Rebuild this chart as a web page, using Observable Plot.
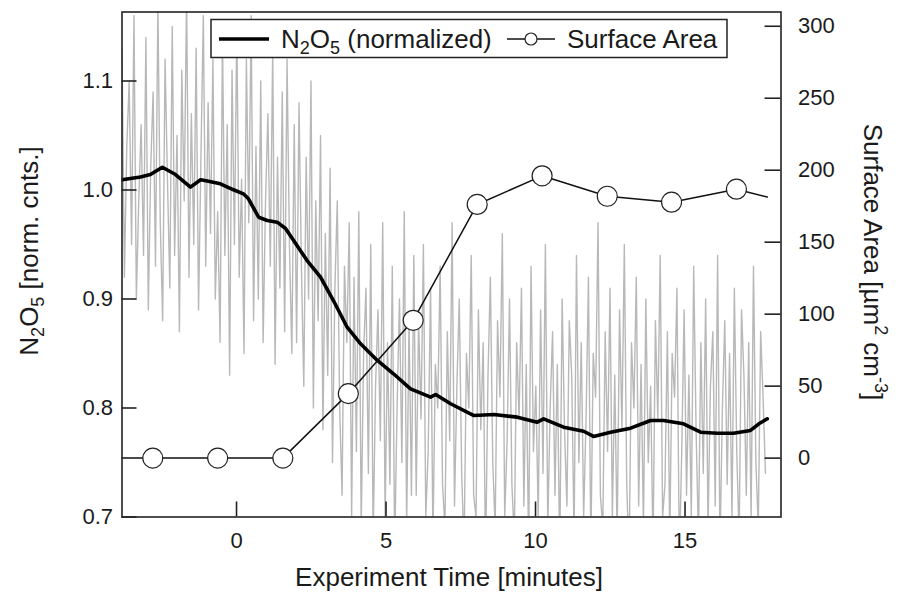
<!DOCTYPE html>
<html><head><meta charset="utf-8">
<script src="https://cdn.jsdelivr.net/npm/d3@7"></script>
<script src="https://cdn.jsdelivr.net/npm/@observablehq/plot@0.6"></script>
<style>body{margin:0;background:#fff}#chart svg{display:block}</style>
</head><body><div id="chart"></div>
<script>
// ---- data ----
// raw N2O5 trace (normalized counts), sampled every rawStep minutes from rawStart
const rawStart = -3.83, rawStep = 0.08;
const rawN2O5 = [
  1.13,0.92,1.04,1.10,0.95,1.16,0.90,0.99,1.06,0.94,1.14,0.89,1.02,1.09,0.93,1.17,0.97,0.88,1.12,1.01,0.91,1.15,0.94,1.05,
  0.87,1.11,0.99,1.18,0.92,1.07,0.95,1.13,0.89,1.03,1.16,0.93,1.08,0.96,1.12,0.90,0.98,0.86,1.14,0.94,1.06,0.83,1.11,0.95,
  1.15,0.92,1.01,0.85,1.12,0.97,1.16,0.88,1.04,0.90,1.10,0.86,0.99,1.07,0.93,1.13,0.84,1.03,0.91,1.09,0.87,1.12,0.95,0.85,1.06,
  0.86,1.08,0.93,0.82,1.03,0.90,1.10,0.80,0.99,0.88,1.05,0.78,0.96,0.83,1.02,0.75,0.91,0.99,0.80,0.72,0.93,0.86,0.97,0.70,0.92,
  0.76,0.98,0.69,0.85,0.91,0.74,0.95,0.68,0.82,0.89,0.77,0.97,0.70,0.86,0.73,0.93,0.67,0.80,0.90,0.75,0.98,0.69,0.88,0.72,0.94,
  0.72,0.88,0.79,0.95,0.70,0.76,0.91,0.68,0.84,0.80,0.93,0.73,0.69,0.87,0.77,0.97,0.71,0.82,0.90,0.74,
  0.67,0.85,0.80,0.94,0.72,0.70,0.89,0.78,0.86,0.66,0.83,0.92,0.75,0.69,0.88,0.81,0.96,0.70,0.77,0.90,
  0.73,0.68,0.86,0.79,0.91,0.71,0.84,0.67,0.93,0.76,0.82,0.70,0.89,0.74,0.95,0.69,0.80,0.87,0.72,0.84,
  0.66,0.90,0.78,0.71,0.88,0.83,0.68,0.94,0.75,0.86,0.70,0.79,0.92,0.67,0.85,0.81,0.97,0.72,0.69,0.87,
  0.76,0.91,0.70,0.83,0.68,0.89,0.78,0.95,0.73,0.66,0.86,0.80,0.92,0.71,0.84,0.69,0.90,0.75,0.82,0.67,
  0.88,0.79,0.94,0.70,0.73,0.87,0.68,0.85,0.81,0.91,0.66,0.76,0.89,0.72,0.83,0.70,0.93,0.78,0.68,0.86,
  0.74,0.90,0.69,0.82,0.87,0.71,0.94,0.67,0.80,0.88,0.73,0.85,0.70,0.91,0.76,0.68,0.89,0.83,0.72,0.86,
  0.70,0.93,0.75,0.69,0.87,0.81,0.74
];
// smoothed N2O5 (black line)
const smoothTime = [-3.83,-3.21,-2.88,-2.48,-2.04,-1.54,-1.20,-0.94,-0.54,-0.10,0.23,0.40,0.74,1.03,1.36,1.64,1.91,2.36,2.81,3.24,3.70,4.15,4.71,5.25,5.82,6.49,6.66,7.16,7.94,8.61,9.39,10.06,10.27,10.94,11.61,11.94,12.51,13.18,13.85,14.28,14.95,15.52,16.08,16.62,17.19,17.47,17.75];
const smoothN2O5 = [1.0094,1.0119,1.0142,1.0209,1.0142,1.0026,1.0094,1.0081,1.0057,1.0002,0.9965,0.9919,0.9750,0.9720,0.9705,0.9647,0.9537,0.9353,0.9200,0.8986,0.8741,0.8589,0.8436,0.8314,0.8176,0.8099,0.8124,0.8039,0.7931,0.7940,0.7916,0.7870,0.7901,0.7824,0.7787,0.7739,0.7778,0.7815,0.7885,0.7885,0.7855,0.7778,0.7769,0.7769,0.7794,0.7855,0.7901];
// surface area (right axis)
const saTime   = [-4.97,-2.80,-0.63,1.55,3.74,5.91,8.05,10.22,12.40,14.55,16.72,17.75];
const saValue  = [0,0,0,0,44.8,95.7,176.2,196.1,181.9,177.8,186.8,181.4];
const saMarker = [false,true,true,true,true,true,true,true,true,true,true,false];
// axes
const xTicks = [0,5,10,15];
const yTicks = [0.7,0.8,0.9,1.0,1.1];
const saTicks = [0,50,100,150,200,250,300];
const xDomain = [-3.83, 18.21];
const yDomain = [0.7, 1.1633];
const saDomain = [-40.9, 309.9];

// ---- build ----
const FONT = "'Liberation Sans', Arial, Helvetica, sans-serif";
const W = 898, H = 595, mL = 121.5, mR = 117.5, mT = 11.5, mB = 78.5;
const fw = W - mL - mR, fh = H - mT - mB;
const saToY = d3.scaleLinear().domain(saDomain).range(yDomain);

const raw = rawN2O5.map((v, i) => ({t: rawStart + i * rawStep, v}));
const smooth = smoothTime.map((t, i) => ({t, v: smoothN2O5[i]}));
const sa = saTime.map((t, i) => ({t, v: saToY(saValue[i]), m: saMarker[i]}));

const chart = Plot.plot({
  width: W, height: H,
  marginLeft: mL, marginRight: mR, marginTop: mT, marginBottom: mB,
  style: {fontFamily: FONT, fontSize: "22px", color: "#1a1a1a", background: "white"},
  x: {domain: xDomain, label: null},
  y: {domain: yDomain, label: null},
  marks: [
    Plot.line(raw, {x: "t", y: "v", stroke: "#b8b8b8", strokeWidth: 1.4, clip: true}),
    Plot.line(smooth, {x: "t", y: "v", stroke: "#000", strokeWidth: 3.6, clip: true}),
    Plot.line(sa, {x: "t", y: "v", stroke: "#111", strokeWidth: 1.5, clip: true}),
    Plot.dot(sa.filter(d => d.m), {x: "t", y: "v", r: 10, fill: "white", stroke: "#222", strokeWidth: 1.2}),
    Plot.frame({stroke: "#222", strokeWidth: 1.6}),
    Plot.ruleX(xTicks, {stroke: "#222", strokeWidth: 1.6, insetTop: fh - 15}),
    Plot.ruleY(yTicks, {stroke: "#222", strokeWidth: 1.6, insetRight: fw - 15}),
    Plot.ruleY(saTicks.map(saToY), {stroke: "#222", strokeWidth: 1.6, insetLeft: fw - 16}),
    Plot.axisX(xTicks, {anchor: "bottom", tickSize: 0, tickPadding: 15, tickFormat: d => String(d)}),
    Plot.axisY(yTicks, {anchor: "left", tickSize: 0, tickPadding: 9, tickFormat: d3.format(".1f")}),
    Plot.axisY(saTicks.map(saToY), {anchor: "right", tickSize: 0, tickPadding: 17, tickFormat: v => String(Math.round(saToY.invert(v)))})
  ]
});
document.getElementById("chart").appendChild(chart);

// ---- titles and legend (real text with sub/superscripts) ----
const svg = d3.select(chart);
const g = svg.append("g").attr("font-family", FONT).attr("fill", "#1a1a1a").attr("font-size", 26);

g.append("text").attr("x", 449).attr("y", 586).attr("text-anchor", "middle").text("Experiment Time [minutes]");

const lt = g.append("text").attr("text-anchor", "middle").attr("transform", "translate(38,251) rotate(-90)");
lt.append("tspan").text("N");
lt.append("tspan").attr("font-size", 18).attr("dy", 6).text("2");
lt.append("tspan").attr("dy", -6).text("O");
lt.append("tspan").attr("font-size", 18).attr("dy", 6).text("5");
lt.append("tspan").attr("dy", -6).text(" [norm. cnts.]");

const rt = g.append("text").attr("text-anchor", "middle").attr("transform", "translate(864,262) rotate(90)");
rt.append("tspan").text("Surface Area [µm");
rt.append("tspan").attr("font-size", 18).attr("dy", -11).text("2");
rt.append("tspan").attr("dy", 11).text(" cm");
rt.append("tspan").attr("font-size", 18).attr("dy", -11).text("-3");
rt.append("tspan").attr("dy", 11).text("]");

// legend
const lg = g.append("g").attr("text-anchor", "start");
lg.append("rect").attr("x", 211).attr("y", 19.5).attr("width", 516).attr("height", 38)
  .attr("fill", "white").attr("stroke", "#222").attr("stroke-width", 1.5);
lg.append("line").attr("x1", 219).attr("x2", 269).attr("y1", 39).attr("y2", 39).attr("stroke", "#000").attr("stroke-width", 3.5);
const l1 = lg.append("text").attr("x", 281).attr("y", 48);
l1.append("tspan").text("N");
l1.append("tspan").attr("font-size", 18).attr("dy", 6).text("2");
l1.append("tspan").attr("dy", -6).text("O");
l1.append("tspan").attr("font-size", 18).attr("dy", 6).text("5");
l1.append("tspan").attr("dy", -6).text(" (normalized)");
lg.append("line").attr("x1", 507).attr("x2", 555).attr("y1", 39).attr("y2", 39).attr("stroke", "#111").attr("stroke-width", 1.5);
lg.append("circle").attr("cx", 531).attr("cy", 39).attr("r", 6).attr("fill", "white").attr("stroke", "#222").attr("stroke-width", 1.2);
lg.append("text").attr("x", 567).attr("y", 48).text("Surface Area");
</script>
</body></html>
